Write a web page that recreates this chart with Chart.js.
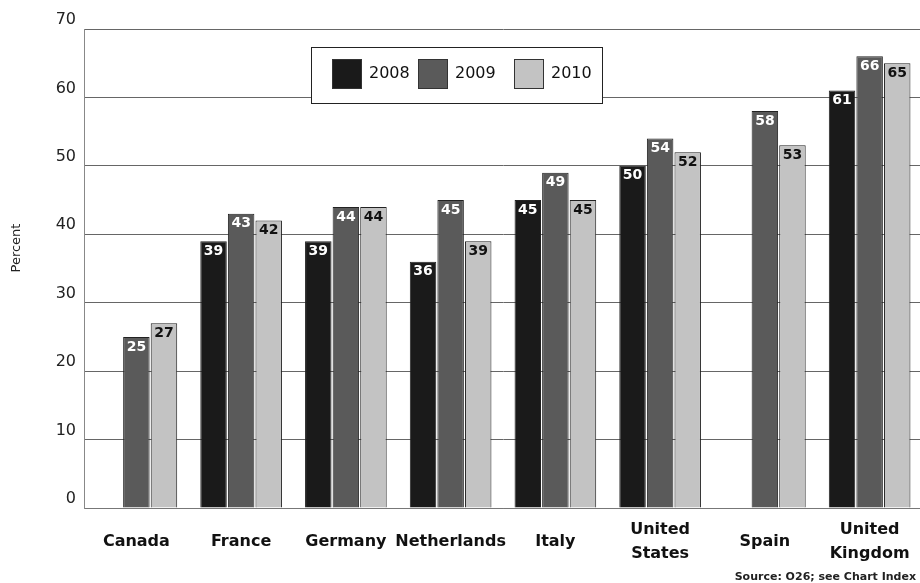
<!DOCTYPE html>
<html>
<head>
<meta charset="utf-8">
<script src="https://cdn.jsdelivr.net/npm/chart.js@4"></script>
<style>
    html, body { margin: 0; padding: 0; background: #fff; overflow: hidden; }
    #wrap { width: 924px; height: 583px; }
</style>
</head>
<body>
<div id="wrap"><canvas id="chart" width="924" height="583"></canvas></div>
<script>
const countries = ['Canada', 'France', 'Germany', 'Netherlands', 'Italy', ['United', 'States'], 'Spain', ['United', 'Kingdom']];
const years = ['2008', '2009', '2010'];
const values2008 = [null, 39, 39, 36, 45, 50, null, 61];
const values2009 = [25, 43, 44, 45, 49, 54, 58, 66];
const values2010 = [27, 42, 44, 39, 45, 52, 53, 65];
const yTicks = [0, 10, 20, 30, 40, 50, 60, 70];

const fills = ['#1a1a1a', '#5a5a5a', '#c3c3c3'];
const labelColors = ['#ffffff', '#ffffff', '#111111'];
const font = '"DejaVu Sans", Verdana, sans-serif';

// Value labels inside the top of each bar
const barLabels = {
    id: 'barLabels',
    afterDatasetsDraw(chart) {
        const ctx = chart.ctx;
        ctx.save();
        ctx.font = 'bold 14px ' + font;
        ctx.textAlign = 'center';
        ctx.textBaseline = 'top';
        chart.data.datasets.forEach((ds, i) => {
            const meta = chart.getDatasetMeta(i);
            meta.data.forEach((bar, j) => {
                const v = ds.data[j];
                if (v === null) return;
                ctx.fillStyle = labelColors[i];
                ctx.fillText(String(v), bar.x, bar.y + 3);
            });
        });
        ctx.restore();
    }
};

// Boxed legend inside the plot, plus side title and source note
const extras = {
    id: 'extras',
    afterDatasetsDraw(chart) {
        const ctx = chart.ctx;
        ctx.save();
        // legend box
        ctx.fillStyle = '#fff';
        ctx.fillRect(311, 47, 292, 57);
        ctx.strokeStyle = '#222';
        ctx.lineWidth = 1;
        ctx.strokeRect(311.5, 47.5, 291, 56);
        const swatchX = [332, 418, 514];
        ctx.font = '16px ' + font;
        ctx.textBaseline = 'middle';
        ctx.textAlign = 'left';
        years.forEach((y, i) => {
            ctx.fillStyle = fills[i];
            ctx.fillRect(swatchX[i], 59, 30, 30);
            ctx.strokeStyle = '#333';
            ctx.strokeRect(swatchX[i] + 0.5, 59.5, 29, 29);
            ctx.fillStyle = '#111';
            ctx.fillText(y, swatchX[i] + 37, 74);
        });
        // y title
        ctx.translate(17, 248);
        ctx.rotate(-Math.PI / 2);
        ctx.textAlign = 'center';
        ctx.font = '13px ' + font;
        ctx.fillStyle = '#222';
        ctx.fillText('Percent', 0, 0);
        ctx.restore();

        ctx.save();
        ctx.font = 'bold 11px ' + font;
        ctx.textAlign = 'right';
        ctx.textBaseline = 'middle';
        ctx.fillStyle = '#222';
        ctx.fillText('Source: O26; see Chart Index', 916, 577);
        ctx.restore();
    }
};

new Chart(document.getElementById('chart'), {
    type: 'bar',
    data: {
        labels: countries,
        datasets: [
            { label: years[0], data: values2008, backgroundColor: fills[0] },
            { label: years[1], data: values2009, backgroundColor: fills[1] },
            { label: years[2], data: values2010, backgroundColor: fills[2] }
        ].map(ds => Object.assign(ds, {
            borderColor: '#222',
            borderWidth: 1,
            categoryPercentage: 0.79,
            barPercentage: 0.96
        }))
    },
    options: {
        responsive: false,
        animation: false,
        layout: { padding: { top: 29, left: 0, right: 2, bottom: 0 } },
        plugins: {
            legend: { display: false },
            tooltip: { enabled: false }
        },
        scales: {
            x: {
                grid: { display: false, drawTicks: false },
                border: { color: '#777', width: 1 },
                afterFit(scale) {
                    scale.height = 75;
                    scale.paddingLeft = 0;
                    scale.paddingRight = 0;
                },
                ticks: {
                    color: '#111',
                    padding: 22,
                    crossAlign: 'center',
                    maxRotation: 0,
                    autoSkip: false,
                    font: { family: font, size: 16, weight: 'bold', lineHeight: 1.5 }
                }
            },
            y: {
                min: 0,
                max: 70,
                afterBuildTicks(scale) { scale.ticks = yTicks.map(v => ({ value: v })); },
                afterFit(scale) { scale.width = 84; },
                grid: { color: '#666', drawTicks: false, lineWidth: 1 },
                border: { color: '#888', width: 1 },
                ticks: {
                    color: '#222',
                    padding: 8,
                    labelOffset: -9,
                    font: { family: font, size: 16 }
                }
            }
        }
    },
    plugins: [barLabels, extras]
});
</script>
</body>
</html>
